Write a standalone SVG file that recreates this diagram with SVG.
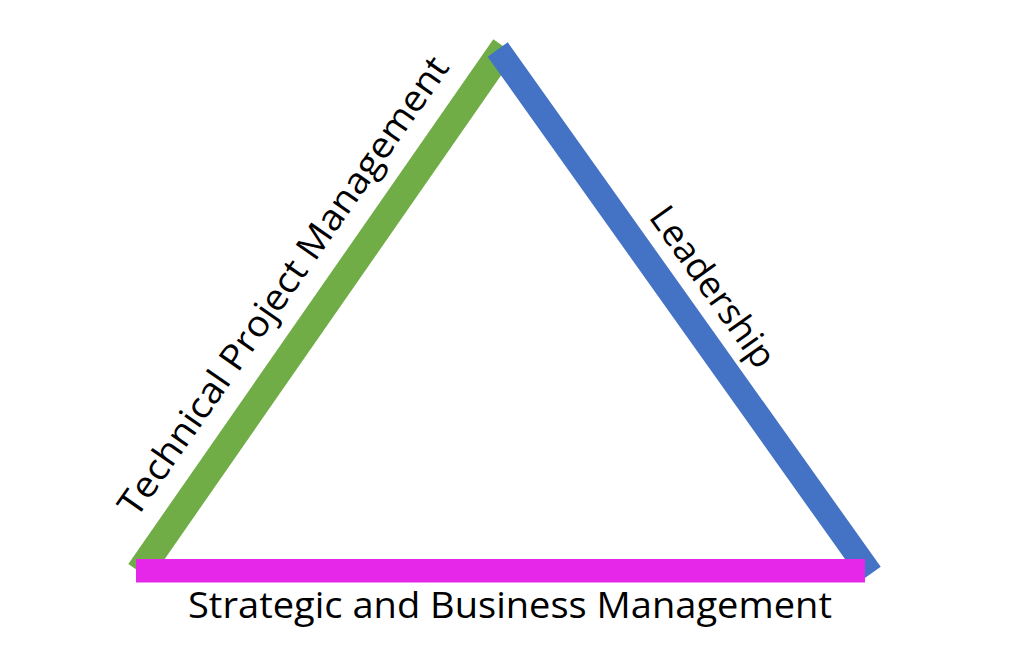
<svg xmlns="http://www.w3.org/2000/svg" width="1019" height="661" viewBox="0 0 1019 661">
<style>
.lbl{font-family:"Open Sans","Liberation Sans",sans-serif;font-size:36px;fill:#000}
</style>
<rect width="1019" height="661" fill="#fff"/>
<g id="connectors">
<line id="edge-technical" x1="139.4" y1="571.7" x2="504.4" y2="47" stroke="#70AD47" stroke-width="27"/>
<line id="edge-leadership" x1="497.7" y1="49.5" x2="870.7" y2="573.9" stroke="#4472C4" stroke-width="24.6"/>
<rect id="edge-strategic" x="136" y="559" width="729" height="23.5" fill="#E627E9"/>
</g>
<g id="label-technical">
<text class="lbl" transform="translate(136.5,519) rotate(-55.2)" textLength="550" lengthAdjust="spacingAndGlyphs">Technical Project Management</text>
</g>
<g id="label-leadership">
<text class="lbl" transform="translate(648,217) rotate(54.6)" textLength="189" lengthAdjust="spacingAndGlyphs">Leadership</text>
</g>
<g id="label-strategic">
<text class="lbl" x="188" y="618" textLength="644" lengthAdjust="spacingAndGlyphs">Strategic and Business Management</text>
</g>
</svg>
